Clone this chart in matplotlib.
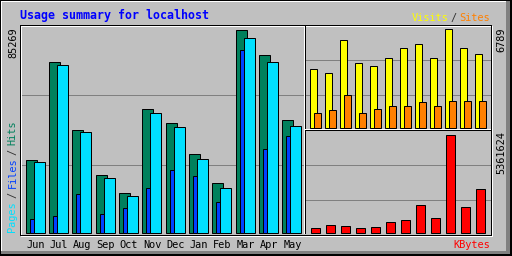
import numpy as np
import matplotlib.pyplot as plt
from matplotlib.patches import Rectangle

# значения (webalizer, сводка по месяцам)
months = ['Jun', 'Jul', 'Aug', 'Sep', 'Oct', 'Nov', 'Dec', 'Jan', 'Feb', 'Mar', 'Apr', 'May']
hits = [30540, 71700, 43140, 24240, 16680, 51960, 46080, 33060, 20880, 85269, 74640, 47340]
files = [5880, 7010, 16260, 7850, 10380, 18780, 26340, 23820, 12900, 76450, 35160, 40620]
pages = [29700, 70440, 42300, 22980, 15420, 50280, 44400, 30960, 18780, 81780, 71700, 44820]
visits = [4018, 3810, 6027, 4434, 4226, 4849, 5473, 5750, 4849, 6789, 5542, 5126]
sites = [1039, 1178, 2286, 970, 1316, 1455, 1524, 1801, 1524, 1870, 1870, 1870]
kbytes = [234500, 436000, 382000, 273000, 327000, 600000, 709000, 1527000, 818000, 5361624, 1418000, 2400000]

title = 'Usage summary for localhost'

BG = '#C0C0C0'
DKGREY = '#808080'
HIT = '#00805C'
FILE = '#0040FF'
PAGE = '#00E0FF'
VISIT = '#FFFF00'
SITE = '#FF8000'
KBYTE = '#FF0000'

W, H = 512, 256
fig = plt.figure(figsize=(W / 100, H / 100), dpi=100, facecolor=BG)

# холст в пиксельных координатах для рамок и подписей
cv = fig.add_axes([0, 0, 1, 1])
cv.set_xlim(0, W)
cv.set_ylim(H, 0)
cv.axis('off')


def px(x, y, w, h, c):
    cv.add_patch(Rectangle((x, y), w, h, facecolor=c, edgecolor='none', antialiased=False))


# внешняя рамка с 3D-эффектом
px(0, 0, W, H, 'black')
px(1, 1, W - 2, H - 2, BG)
px(1, 1, W - 2, 1, 'white')
px(1, 1, 1, H - 2, 'white')
px(506, 1, 4, H - 2, DKGREY)
px(1, 251, W - 2, 3, DKGREY)
px(510, 0, 2, H, 'black')
px(0, 254, W, 2, 'black')

# сетка
for row in (95, 165):
    px(21, row, 283, 1, DKGREY)
for row in (60, 95):
    px(306, row, 185, 1, DKGREY)
for row in (165, 200):
    px(306, row, 185, 1, DKGREY)

# рамка области графиков
px(21, 26, 472, 1, 'white')
px(21, 26, 1, 211, 'white')
px(21, 236, 472, 1, 'white')
px(492, 26, 1, 211, 'white')
px(20, 25, 472, 1, 'black')
px(20, 25, 1, 211, 'black')
px(20, 235, 472, 1, 'black')
px(491, 25, 1, 211, 'black')
px(304, 26, 1, 208, 'white')
px(305, 25, 1, 209, 'black')
px(305, 129, 186, 1, 'white')
px(305, 130, 186, 1, 'black')


def data_axes(base, top, vmax):
    # прозрачные оси на всю картинку, x в пикселях, y в единицах величины
    ax = fig.add_axes([0, 0, 1, 1])
    ax.patch.set_alpha(0)
    ax.axis('off')
    per = vmax / (base - top)
    ax.set_xlim(0, W)
    ax.set_ylim((base - H) * per, base * per)
    return ax


i = np.arange(12)
step = 70 / 3
bar_kw = dict(align='edge', edgecolor='black', linewidth=0.72)

ax1 = data_axes(232.5, 29.5, max(hits))
ax1.bar(25.8 + i * step, hits, 11, color=HIT, **bar_kw)
ax1.bar(29.8 + i * step, files, 4, color=FILE, **bar_kw)
ax1.bar(33.8 + i * step, pages, 11, color=PAGE, **bar_kw)

ax2 = data_axes(127.5, 29.5, max(visits))
ax2.bar(309.5 + i * 15, visits, 7, color=VISIT, **bar_kw)
ax2.bar(313.5 + i * 15, sites, 7, color=SITE, **bar_kw)

ax3 = data_axes(232.5, 134.5, max(kbytes))
ax3.bar(310.5 + i * 15, kbytes, 9, color=KBYTE, **bar_kw)

# подписи
mono = 'DejaVu Sans Mono'
small = 7.4
cv.text(20, 19.3, title, color='#0000FF', fontsize=8.4, fontweight='bold',
        family=mono, va='baseline', ha='left')

for k, m in enumerate(months):
    cv.text(26.5 + k * step, 247.5, m, color='black', fontsize=small, family=mono,
            va='baseline', ha='left')

cv.text(411.5, 20.7, 'Visits', color=VISIT, fontsize=small, family=mono, va='baseline')
cv.text(450.5, 20.7, '/', color='#303030', fontsize=small, family=mono, va='baseline')
cv.text(459.5, 20.7, 'Sites', color=SITE, fontsize=small, family=mono, va='baseline')
cv.text(453.5, 247.5, 'KBytes', color=KBYTE, fontsize=small, family=mono, va='baseline')

cv.text(13.5, 27, str(max(hits)), rotation=90, fontsize=small, family=mono,
        ha='center', va='top')
cv.text(501, 27, str(max(visits)), rotation=90, fontsize=small, family=mono,
        ha='center', va='top')
cv.text(501, 131, str(max(kbytes)), rotation=90, fontsize=small, family=mono,
        ha='center', va='top')

for txt, y, c in [('Pages', 232, PAGE), ('/', 198, '#303030'), ('Files', 188, FILE),
                  ('/', 155, '#303030'), ('Hits', 145, HIT)]:
    cv.text(12.5, y, txt, rotation=90, color=c, fontsize=small, family=mono,
            ha='center', va='bottom')

fig.savefig('out.png', dpi=100, facecolor=BG)
